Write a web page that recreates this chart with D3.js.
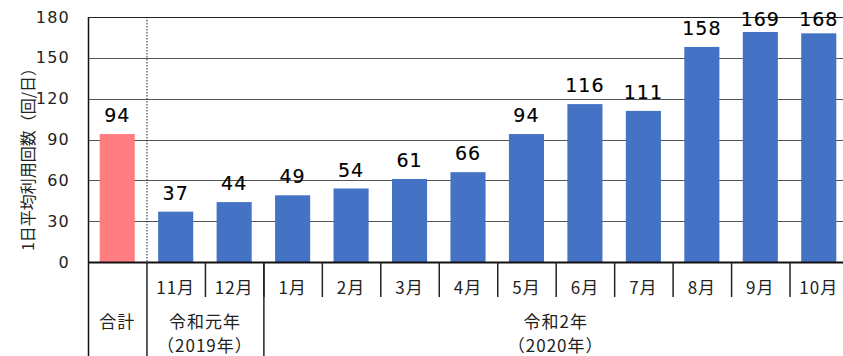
<!DOCTYPE html>
<html lang="ja">
<head>
<meta charset="utf-8">
<script src="https://cdn.jsdelivr.net/npm/d3@7"></script>
<style>
  html, body { margin: 0; padding: 0; background: #fff; overflow: hidden; }
  svg { display: block; font-family: "Noto Sans CJK JP", "Noto Sans", sans-serif; }
</style>
</head>
<body>
<svg id="chart" width="843" height="356"></svg>
<script>
// Monthly average daily usage
const categories = ["合計", "11月", "12月", "1月", "2月", "3月", "4月", "5月", "6月", "7月", "8月", "9月", "10月"];
const values = [94, 37, 44, 49, 54, 61, 66, 94, 116, 111, 158, 169, 168];
const yTicks = [0, 30, 60, 90, 120, 150, 180];
const yTitle = "1日平均利用回数（回/日）";
// Year groups under the month row: first category, last category, label lines
const groupStart = ["合計", "11月", "1月"];
const groupEnd = ["合計", "12月", "10月"];
const groupLines = [["合計"], ["令和元年", "（2019年）"], ["令和2年", "（2020年）"]];

const svg = d3.select("#chart");
const plotLeft = 88, plotRight = 848, plotTop = 17, plotBottom = 262;
const digitFont = "\"DejaVu Sans\", sans-serif";

const x = d3.scaleBand().domain(categories).range([plotLeft, plotRight])
  .paddingInner(0.4).paddingOuter(0.2);
const y = d3.scaleLinear().domain([0, 180]).range([plotBottom, plotTop]);
const step = x.step();
// Column edges: each category owns one full step
const edge = c => plotLeft + categories.indexOf(c) * step;

// Gridlines
svg.append("g").selectAll("line").data(yTicks.filter(t => t > 0)).join("line")
  .attr("x1", plotLeft).attr("x2", plotRight)
  .attr("y1", d => Math.round(y(d)) + 0.5).attr("y2", d => Math.round(y(d)) + 0.5)
  .attr("stroke", d => d === 180 ? "#222" : "#555").attr("stroke-width", 1);

// Y axis tick labels
const yAxis = d3.axisLeft(y).tickValues(yTicks).tickSize(0).tickPadding(18);
const gy = svg.append("g").attr("transform", `translate(${plotLeft},0)`).call(yAxis);
gy.select(".domain").remove();
gy.selectAll("text").attr("font-size", 16).attr("fill", "#222")
  .attr("font-family", digitFont).attr("letter-spacing", "1.2px");

// Y title
svg.append("text")
  .attr("transform", `translate(27,${(plotTop + plotBottom) / 2 + 16}) rotate(-90)`)
  .attr("text-anchor", "middle").attr("dominant-baseline", "central")
  .attr("font-size", 16).attr("fill", "#222").text(yTitle);

// Dotted separator between total and monthly columns
svg.append("line")
  .attr("x1", edge("11月") + 0.5).attr("x2", edge("11月") + 0.5)
  .attr("y1", plotTop).attr("y2", plotBottom)
  .attr("stroke", "#222").attr("stroke-width", 1).attr("stroke-dasharray", "1.5,1.5");

// Bars
svg.append("g").selectAll("rect").data(categories).join("rect")
  .attr("x", d => x(d)).attr("width", x.bandwidth())
  .attr("y", (d, i) => y(values[i])).attr("height", (d, i) => plotBottom - y(values[i]))
  .attr("fill", (d, i) => i === 0 ? "#FF7C80" : "#4472C4");

// Value labels
svg.append("g").selectAll("text").data(categories).join("text")
  .attr("x", d => x(d) + x.bandwidth() / 2)
  .attr("y", (d, i) => Math.max(y(values[i]) - 12, 26))
  .attr("text-anchor", "middle").attr("font-size", 19).attr("fill", "#000")
  .attr("stroke", "#000").attr("stroke-width", 0.15)
  .attr("font-family", digitFont).attr("letter-spacing", "1px")
  .text((d, i) => values[i]);

// Baseline
svg.append("line").attr("x1", plotLeft).attr("x2", plotRight)
  .attr("y1", plotBottom + 0.5).attr("y2", plotBottom + 0.5)
  .attr("stroke", "#111").attr("stroke-width", 2);
// Left axis line
svg.append("line").attr("x1", plotLeft + 0.5).attr("x2", plotLeft + 0.5)
  .attr("y1", plotTop).attr("y2", 356).attr("stroke", "#111").attr("stroke-width", 1.5);

// Category table: month row
const monthCats = categories.slice(1);
svg.append("g").selectAll("text").data(monthCats).join("text")
  .attr("x", d => x(d) + x.bandwidth() / 2).attr("y", 286)
  .attr("text-anchor", "middle").attr("dominant-baseline", "central")
  .attr("font-size", 17).attr("letter-spacing", "1px").attr("fill", "#222").text(d => d);

// Short separators between months
svg.append("g").selectAll("line").data(monthCats.slice(1)).join("line")
  .attr("x1", d => edge(d) + 0.5).attr("x2", d => edge(d) + 0.5)
  .attr("y1", plotBottom).attr("y2", 297)
  .attr("stroke", "#222").attr("stroke-width", 1.5);

// Full-height separators between groups
const fullEdges = groupStart.slice(1).map(edge).concat([plotRight]);
svg.append("g").selectAll("line").data(fullEdges).join("line")
  .attr("x1", d => d + 0.5).attr("x2", d => d + 0.5)
  .attr("y1", plotBottom).attr("y2", 356)
  .attr("stroke", "#222").attr("stroke-width", 1.5);

// Group labels
groupLines.forEach((lines, gi) => {
  const cx = (edge(groupStart[gi]) + edge(groupEnd[gi]) + step) / 2;
  const t = svg.append("text").attr("text-anchor", "middle")
    .attr("font-size", 17).attr("letter-spacing", "1px").attr("fill", "#222");
  lines.forEach((ln, li) => {
    t.append("tspan").attr("x", cx).attr("y", 328 + li * 24).text(ln);
  });
});
</script>
</body>
</html>
